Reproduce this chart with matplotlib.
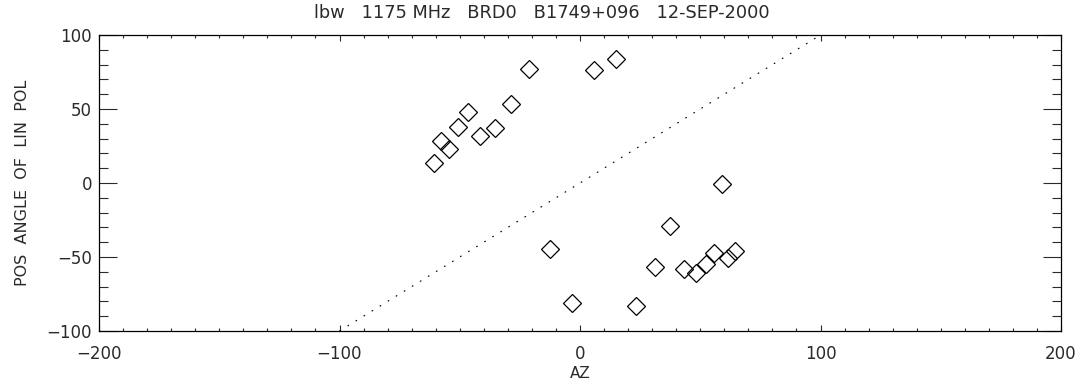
import matplotlib
matplotlib.use("Agg")
import matplotlib.pyplot as plt
from matplotlib.ticker import MultipleLocator

# azimuth (deg) and position angle of linear polarisation (deg)
az = [-60.7, -57.9, -54.5, -50.9, -46.4, -41.6, -35.5, -28.7, -21.1, 5.8, 15.0,
      -12.5, -3.3, 23.3, 31.0, 37.5, 43.1, 48.1, 52.3, 55.8, 59.0, 61.7, 64.3]
pa = [13.3, 28.6, 23.0, 38.1, 47.7, 31.8, 37.4, 53.2, 77.0, 76.4, 83.6,
      -44.8, -81.3, -83.1, -56.5, -29.3, -58.3, -60.6, -54.9, -47.5, -0.9, -50.9, -45.7]

ref_line = [-100, 100]

plt.rcParams['font.family'] = ['DejaVu Sans']
plt.rcParams['axes.unicode_minus'] = True

fig = plt.figure(figsize=(10.83, 3.88), dpi=100)
ax = fig.add_axes([99 / 1083, 1 - 331 / 388, 962 / 1083, 296 / 388])

ax.plot(ref_line, ref_line, linestyle=(0, (1.5, 7)), color='black', linewidth=0.8)
ax.plot(az, pa, linestyle='none', marker='D', markersize=9.6,
        markerfacecolor='none', markeredgecolor='black', markeredgewidth=0.9)

ax.set_xlim(-200, 200)
ax.set_ylim(-100, 100)
ax.xaxis.set_major_locator(MultipleLocator(100))
ax.xaxis.set_minor_locator(MultipleLocator(10))
ax.yaxis.set_major_locator(MultipleLocator(50))
ax.yaxis.set_minor_locator(MultipleLocator(10))

ax.tick_params(axis='x', which='both', direction='in', top=True, bottom=True,
               labelsize=12, pad=10, colors='#2a2a2a')
ax.tick_params(axis='x', which='major', length=4.3, width=0.8)
ax.tick_params(axis='x', which='minor', length=2.2, width=0.8)
ax.tick_params(axis='y', which='both', direction='in', left=True, right=True,
               labelsize=12, pad=5, colors='#2a2a2a')
ax.tick_params(axis='y', which='major', length=13, width=0.8)
ax.tick_params(axis='y', which='minor', length=6.5, width=0.8)
for s in ax.spines.values():
    s.set_linewidth(0.9)

ax.set_xlabel("AZ", fontsize=11, labelpad=2, color='#2a2a2a')
ax.set_ylabel("POS  ANGLE  OF  LIN  POL", fontsize=11.5, labelpad=12, color='#2a2a2a')

# IDL centres the title on the window, not on the plot box
fig.text(0.5, 1 - 12.5 / 388, "lbw   1175 MHz   BRD0   B1749+096   12-SEP-2000",
         ha='center', va='center', fontsize=12.8, color='#2a2a2a')

fig.savefig("out.png", dpi=100)
